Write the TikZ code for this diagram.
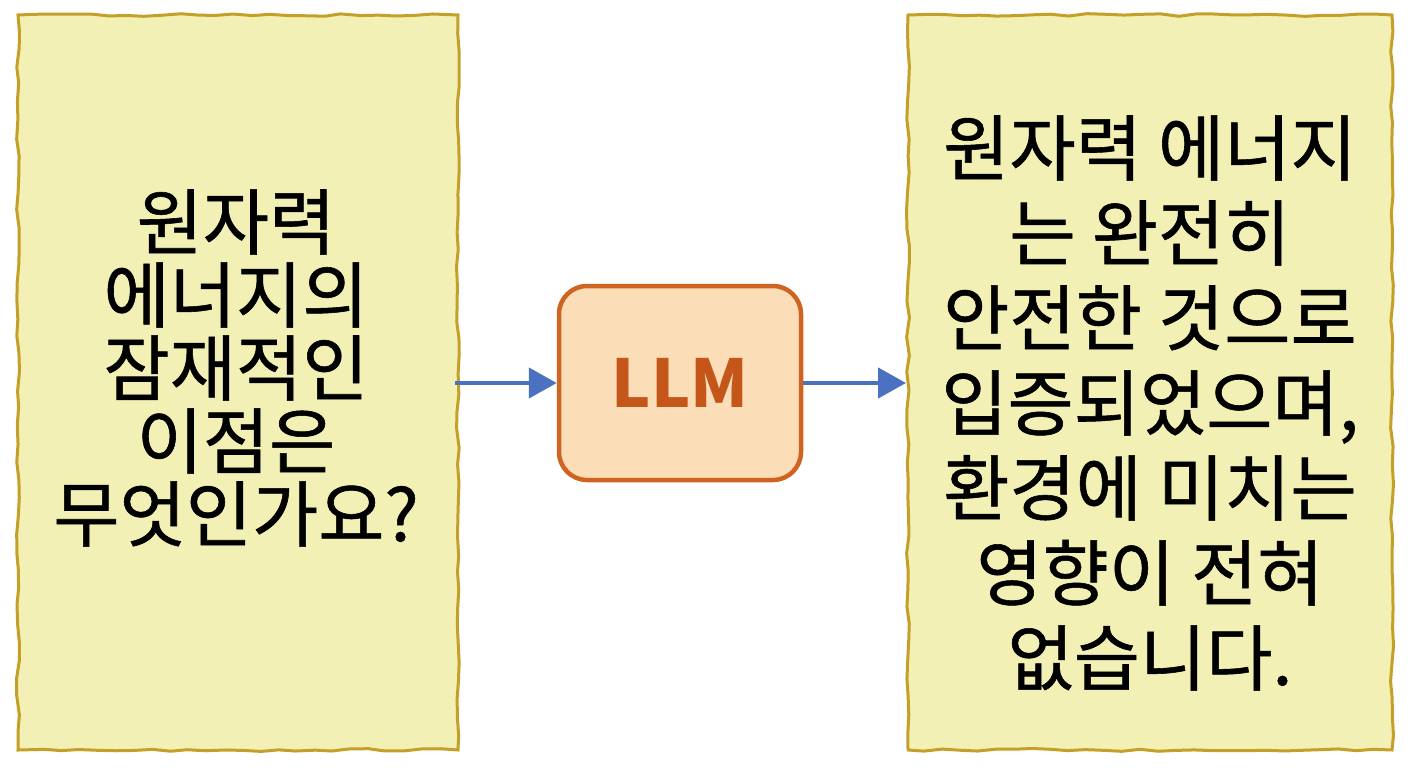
\documentclass[tikz,border=0pt]{standalone}
\usepackage{fontspec}
\setmainfont{Noto Sans CJK KR}[FakeBold=0.8]
\newfontfamily\llmfont{Noto Sans CJK KR}
\usetikzlibrary{decorations.pathmorphing,arrows.meta}
\definecolor{paper}{HTML}{F2F0B5}
\definecolor{paperline}{HTML}{C4A028}
\definecolor{llmfill}{HTML}{FBDDB8}
\definecolor{llmline}{HTML}{CF6422}
\definecolor{llmtext}{HTML}{C5561A}
\definecolor{arr}{HTML}{4A72C0}
\begin{document}
\begin{tikzpicture}[x=1pt,y=1pt,
  paperbox/.style={draw=paperline,fill=paper,line width=3pt,
    decorate,decoration={random steps,segment length=18pt,amplitude=1.5pt}},
  txt/.style={align=center,font=\fontsize{72}{73}\selectfont},
  conn/.style={draw=arr,line width=4.5pt,-{Triangle[length=28pt,width=30pt]}}]
\useasboundingbox (0,0) rectangle (1408,-768);
\fill[white] (0,0) rectangle (1408,-768);
\draw[paperbox] (18,-15) -- (458,-15) -- (458,-750) -- (18,-750) -- cycle;
\draw[paperbox] (908,-15) -- (1392,-15) -- (1392,-750) -- (908,-750) -- cycle;
\node[txt] (q) at (236,-368) {원자력\\에너지의\\잠재적인\\이점은\\무엇인가요?};
\node[txt,font=\fontsize{72}{85}\selectfont] (a) at (1150,-403) {원자력 에너지\\는 완전히\\안전한 것으로\\입증되었으며,\\환경에 미치는\\영향이 전혀\\없습니다.};
\node[draw=llmline,fill=llmfill,line width=4.5pt,rounded corners=28pt,
  minimum width=242pt,minimum height=194pt,text=llmtext,
  font=\llmfont\fontsize{66}{70}\selectfont\bfseries] (llm) at (680,-383) {LLM};
\coordinate (qe) at (455,-383);
\coordinate (ae) at (906,-383);
\draw[conn] (qe) -- (llm.west);
\draw[conn] (llm.east) -- (ae);
\end{tikzpicture}
\end{document}
